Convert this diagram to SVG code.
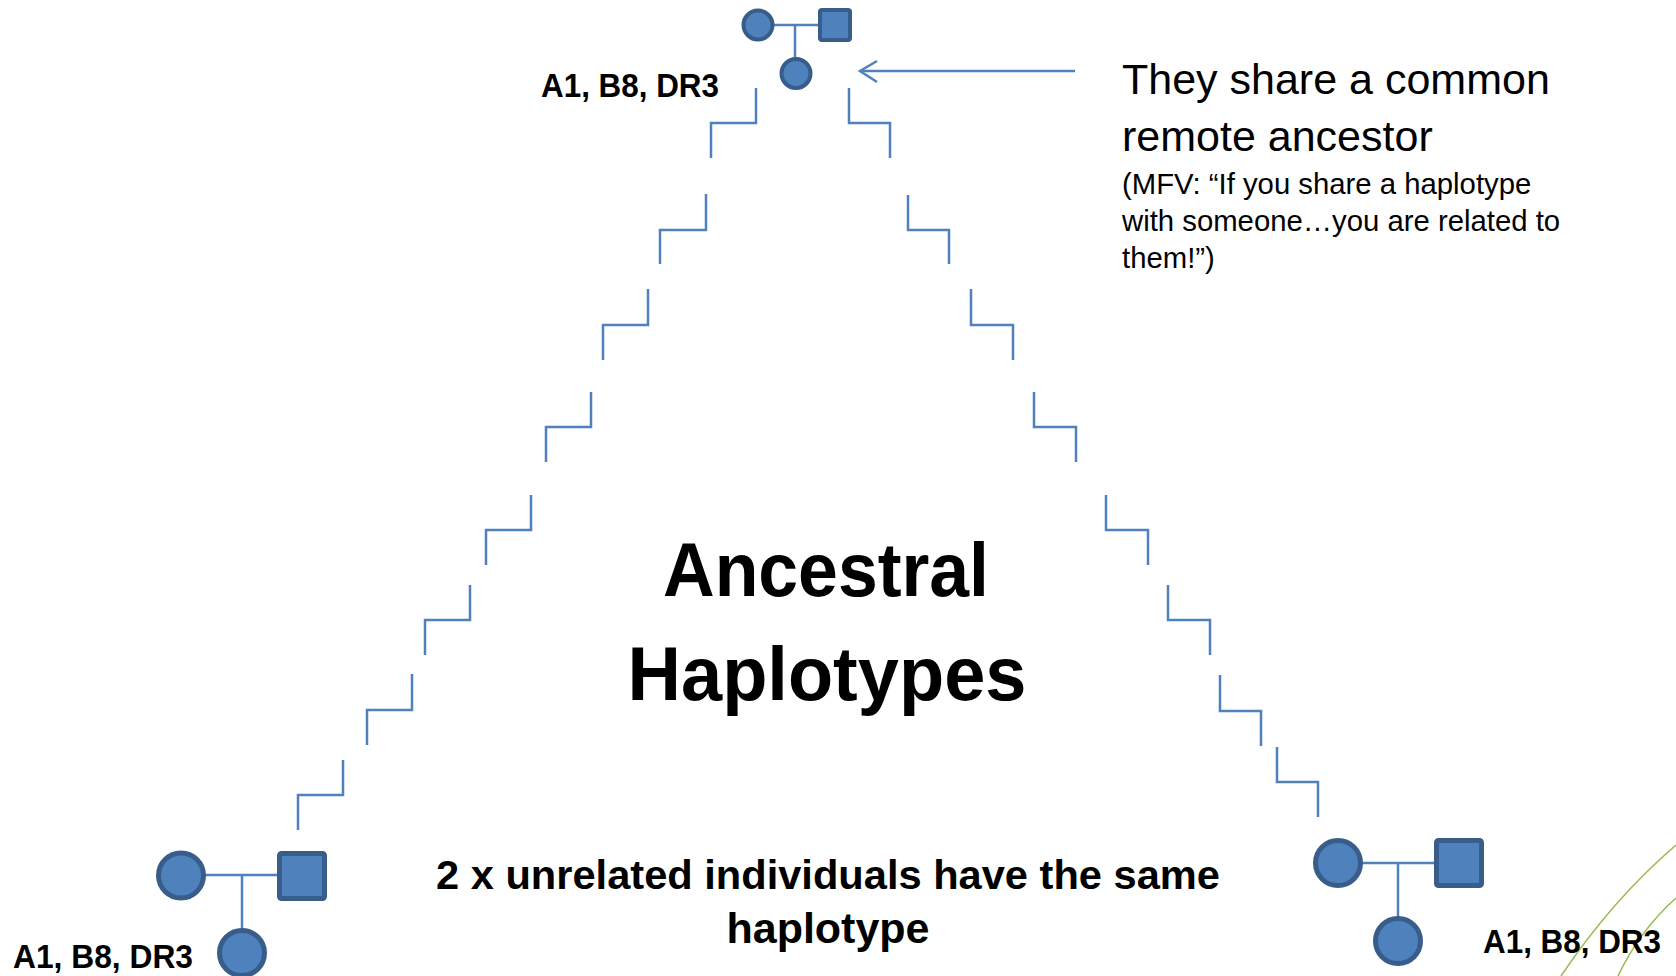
<svg xmlns="http://www.w3.org/2000/svg" width="1676" height="976" viewBox="0 0 1676 976">
<style>
.p{fill:#4F81BD;stroke:#385D8A}
.ln{fill:none;stroke:#4F81BD;stroke-width:2.5}
.st{fill:none;stroke:#4F81BD;stroke-width:2.5;stroke-linejoin:miter}
.lab{font-family:"Liberation Sans",Arial,sans-serif;font-weight:bold;fill:#000}
.txt{font-family:"Liberation Sans",Arial,sans-serif;fill:#000}
.g{fill:none;stroke:#9BBB59;stroke-width:1.6}
</style>
<rect width="1676" height="976" fill="#ffffff"/>
<g id="decor">
<path class="g" d="M1676,845 Q1612,900 1561,976"/>
<path class="g" d="M1676,898 Q1640,930 1618,976"/>
</g>
<g id="connectors">
<g id="stairs-left">
<path class="st" d="M756,88 V123 H711 V158"/>
<path class="st" d="M706,194 V230 H660 V264"/>
<path class="st" d="M648,289 V325 H603 V360"/>
<path class="st" d="M591,392 V427 H546 V462"/>
<path class="st" d="M531,495 V530 H486 V565"/>
<path class="st" d="M470,585 V620 H425 V655"/>
<path class="st" d="M412,674 V710 H367 V745"/>
<path class="st" d="M343,760 V795 H298 V830"/>
</g>
<g id="stairs-right">
<path class="st" d="M849,88 V123 H890 V158"/>
<path class="st" d="M908,195 V230 H949 V264"/>
<path class="st" d="M971,289 V325 H1013 V360"/>
<path class="st" d="M1034,392 V427 H1076 V462"/>
<path class="st" d="M1106,495 V530 H1148 V565"/>
<path class="st" d="M1168,585 V620 H1210 V655"/>
<path class="st" d="M1220,675 V711 H1261 V746"/>
<path class="st" d="M1277,747 V782 H1318 V817"/>
</g>
<g id="arrow">
<line class="ln" x1="1075" y1="71" x2="861" y2="71"/>
<polyline class="ln" points="877,61 860,71 877,82"/>
</g>
</g>
<g id="pedigree-top">
<line class="ln" x1="772" y1="25" x2="820" y2="25"/>
<line class="ln" x1="795" y1="25" x2="795" y2="58"/>
<circle class="p" cx="758" cy="25" r="14.5" stroke-width="4"/>
<rect class="p" x="820" y="10" width="30" height="30" rx="2" stroke-width="4"/>
<circle class="p" cx="796" cy="73.5" r="14.5" stroke-width="4"/>
<text class="lab" x="541" y="97" font-size="33" textLength="178" lengthAdjust="spacingAndGlyphs">A1, B8, DR3</text>
</g>
<g id="pedigree-left">
<line class="ln" x1="205" y1="875" x2="280" y2="875"/>
<line class="ln" x1="242" y1="875" x2="242" y2="930"/>
<circle class="p" cx="181" cy="875.5" r="22.5" stroke-width="5"/>
<rect class="p" x="279.5" y="853.5" width="45" height="45" rx="2" stroke-width="5"/>
<circle class="p" cx="242" cy="953" r="22.5" stroke-width="5"/>
<text class="lab" x="13" y="968" font-size="33" textLength="180" lengthAdjust="spacingAndGlyphs">A1, B8, DR3</text>
</g>
<g id="pedigree-right">
<line class="ln" x1="1361" y1="863" x2="1436" y2="863"/>
<line class="ln" x1="1398" y1="863" x2="1398" y2="918"/>
<circle class="p" cx="1338" cy="863" r="22.5" stroke-width="5"/>
<rect class="p" x="1436.5" y="840.5" width="45" height="45" rx="2" stroke-width="5"/>
<circle class="p" cx="1398" cy="941" r="22.5" stroke-width="5"/>
<text class="lab" x="1483" y="953" font-size="33" textLength="178" lengthAdjust="spacingAndGlyphs">A1, B8, DR3</text>
</g>
<g id="title">
<text class="lab" x="826" y="596" font-size="76" text-anchor="middle" textLength="326" lengthAdjust="spacingAndGlyphs">Ancestral</text>
<text class="lab" x="827" y="700" font-size="76" text-anchor="middle" textLength="399" lengthAdjust="spacingAndGlyphs">Haplotypes</text>
</g>
<g id="caption">
<text class="lab" x="828" y="889" font-size="41" text-anchor="middle" textLength="784" lengthAdjust="spacingAndGlyphs">2 x unrelated individuals have the same</text>
<text class="lab" x="828" y="943" font-size="43" text-anchor="middle">haplotype</text>
</g>
<g id="note">
<text class="txt" x="1122" y="94" font-size="43">They share a common</text>
<text class="txt" x="1122" y="151" font-size="43">remote ancestor</text>
<text class="txt" x="1122" y="194" font-size="29.3">(MFV: “If you share a haplotype</text>
<text class="txt" x="1122" y="231" font-size="29.3">with someone…you are related to</text>
<text class="txt" x="1122" y="268" font-size="29.3">them!”)</text>
</g>
</svg>
